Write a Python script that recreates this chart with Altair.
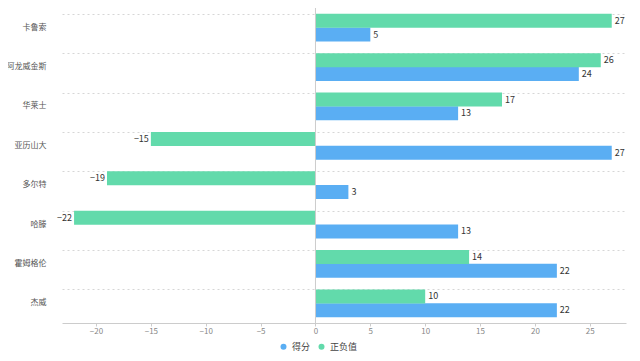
import altair as alt
import pandas as pd

names = ["卡鲁索", "阿龙威金斯", "华莱士", "亚历山大", "多尔特", "哈滕", "霍姆格伦", "杰威"]
score = [5, 24, 13, 27, 3, 13, 22, 22]
plusminus = [27, 26, 17, -15, -19, -22, 14, 10]
series = ["得分", "正负值"]
colors = ["#5AAEF3", "#62DAAB"]

rows = []
for n, s, p in zip(names, score, plusminus):
    rows.append({"name": n, "series": "得分", "value": s})
    rows.append({"name": n, "series": "正负值", "value": p})
df = pd.DataFrame(rows)

FONT = "Noto Sans CJK SC"

y_enc = alt.Y("name:N", sort=names,
              scale=alt.Scale(paddingInner=0.32, paddingOuter=0.16),
              axis=alt.Axis(title=None, bandPosition=0, grid=True, gridDash=[2, 3],
                            gridColor="#d6d6d6", domain=False, ticks=False,
                            labelPadding=16, labelFontSize=8, labelColor="#555555",
                            labelFont=FONT))
yoff = alt.YOffset("series:N", sort=["正负值", "得分"], scale=alt.Scale(paddingInner=0.07))
x_enc = alt.X("value:Q", scale=alt.Scale(domain=[-23.1, 28.3], nice=False, zero=False),
              axis=alt.Axis(title=None, values=[-20, -15, -10, -5, 0, 5, 10, 15, 20, 25],
                            grid=False, domainColor="#cccccc", tickColor="#cccccc",
                            tickSize=3, labelFontSize=8, labelColor="#888888",
                            labelFont=FONT, labelPadding=1))

base = alt.Chart(df)

bars = base.mark_bar(size=14).encode(
    y=y_enc, yOffset=yoff, x=x_enc,
    color=alt.Color("series:N",
                    scale=alt.Scale(domain=series, range=colors),
                    legend=alt.Legend(title=None, orient="none", direction="horizontal",
                                      legendX=217, legendY=334, symbolType="circle",
                                      symbolSize=36, labelFontSize=9, labelColor="#444444",
                                      labelFont=FONT, columnPadding=6, labelOffset=4)),
)

pos_text = base.transform_filter("datum.value >= 0").mark_text(
    align="left", dx=3, fontSize=9, color="#333333", font=FONT
).encode(y=alt.Y("name:N", sort=names), yOffset=yoff, x="value:Q", text="value:Q")

neg_text = base.transform_filter("datum.value < 0").mark_text(
    align="right", dx=-2, fontSize=9, color="#333333", font=FONT
).encode(y=alt.Y("name:N", sort=names), yOffset=yoff, x="value:Q", text="value:Q")

zero = alt.Chart(pd.DataFrame({"v": [0]})).mark_rule(color="#cccccc", strokeWidth=1).encode(
    x=alt.X("v:Q"))

chart = alt.layer(bars, zero, pos_text, neg_text).properties(
    width=564, height=315,
    padding={"left": 54, "top": 0, "right": 6, "bottom": 30},
    autosize=alt.AutoSizeParams(type="none"),
).configure_view(stroke=None)

chart.save("out.html", embed_options={"renderer": "svg", "actions": False})
